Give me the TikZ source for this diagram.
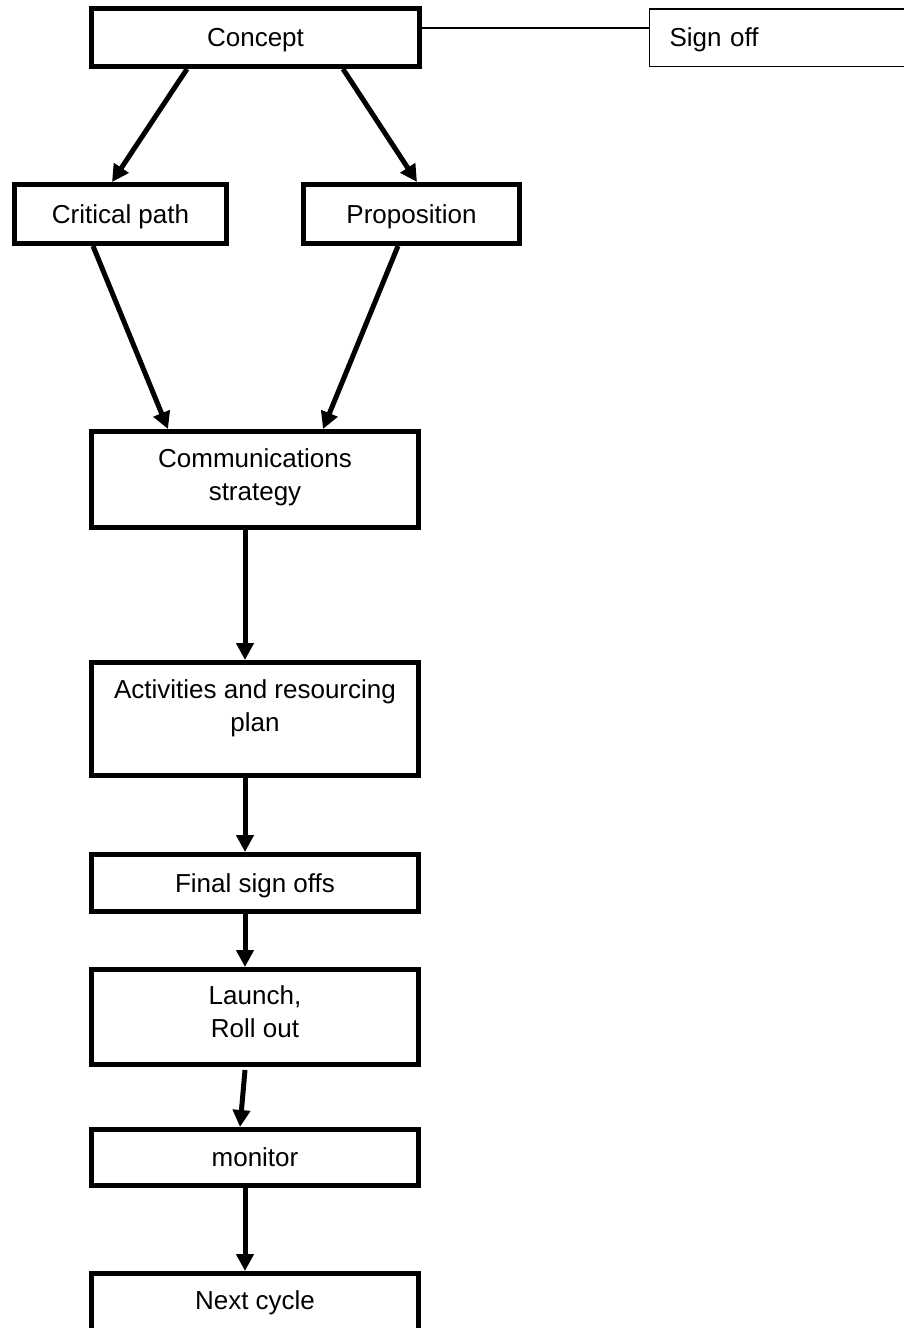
\documentclass[tikz,border=0pt]{standalone}
\usepackage{fontspec}
\setmainfont{Liberation Sans}
\usetikzlibrary{arrows.meta}
\begin{document}
\begin{tikzpicture}[x=1pt,y=-1pt,
  box/.style={draw=black, line width=5pt, rectangle, inner sep=0pt,
    minimum width=327pt, align=center,
    font=\fontsize{26}{33}\selectfont},
  thinbox/.style={draw=black, line width=1.5pt, rectangle, inner sep=0pt,
    font=\fontsize{26}{33}\selectfont},
  oneline/.style={text depth=0pt},
  flow/.style={line width=5pt, -{Triangle[length=17pt,width=17pt]}},
  link/.style={line width=1.3pt}]
\useasboundingbox (0,0) rectangle (904,1328);

% boxes
\node[box, oneline, minimum width=328pt, minimum height=58pt] (concept) at (255.5,37.5) {Concept};
\node[thinbox, oneline, anchor=west, minimum height=57.5pt, text width=222pt,
      inner xsep=20pt, align=left] (signoff) at (648.75,37.5) {Sign off};
\node[box, oneline, minimum width=212pt, minimum height=59pt] (critical) at (120.5,214) {Critical path};
\node[box, oneline, minimum width=216pt, minimum height=59pt] (proposition) at (411.5,214) {Proposition};
\node[box, minimum height=96pt] (comm) at (255,479.5) {Communications\\strategy\\[-23pt]\mbox{}};
\node[box, minimum height=113pt] (activities) at (255,719) {Activities and resourcing\\plan\\[-6pt]\mbox{}};
\node[box, oneline, minimum height=57pt] (final) at (255,883) {Final sign offs};
\node[box, minimum height=95pt] (launch) at (255,1017) {Launch,\\Roll out\\[-23pt]\mbox{}};
\node[box, minimum height=56pt] (monitor) at (255,1157.5) {monitor};
\node[box, minimum height=58pt] (next) at (255,1302.5) {Next cycle};

% connectors
\draw[link] ([yshift=9.5pt]concept.east) -- ([yshift=9.5pt]concept.east -| signoff.west);
\draw[flow] ([xshift=-68.5pt]concept.south) -- ([xshift=-8.5pt]critical.north);
\draw[flow] ([xshift=87.5pt]concept.south) -- ([xshift=5.5pt]proposition.north);
\draw[flow] ([xshift=-27.5pt]critical.south) -- ([xshift=-87pt]comm.north);
\draw[flow] ([xshift=-13.5pt]proposition.south) -- ([xshift=68pt]comm.north);
\draw[flow] ([xshift=-10pt]comm.south) -- ([xshift=-10pt]activities.north);
\draw[flow] ([xshift=-10pt]activities.south) -- ([xshift=-10pt]final.north);
\draw[flow] ([xshift=-10pt]final.south) -- ([xshift=-10pt]launch.north);
\draw[flow] ([xshift=-10pt,yshift=-3pt]launch.south) -- ([xshift=-15pt]monitor.north);
\draw[flow] ([xshift=-10pt]monitor.south) -- ([xshift=-10pt]next.north);
\end{tikzpicture}
\end{document}
